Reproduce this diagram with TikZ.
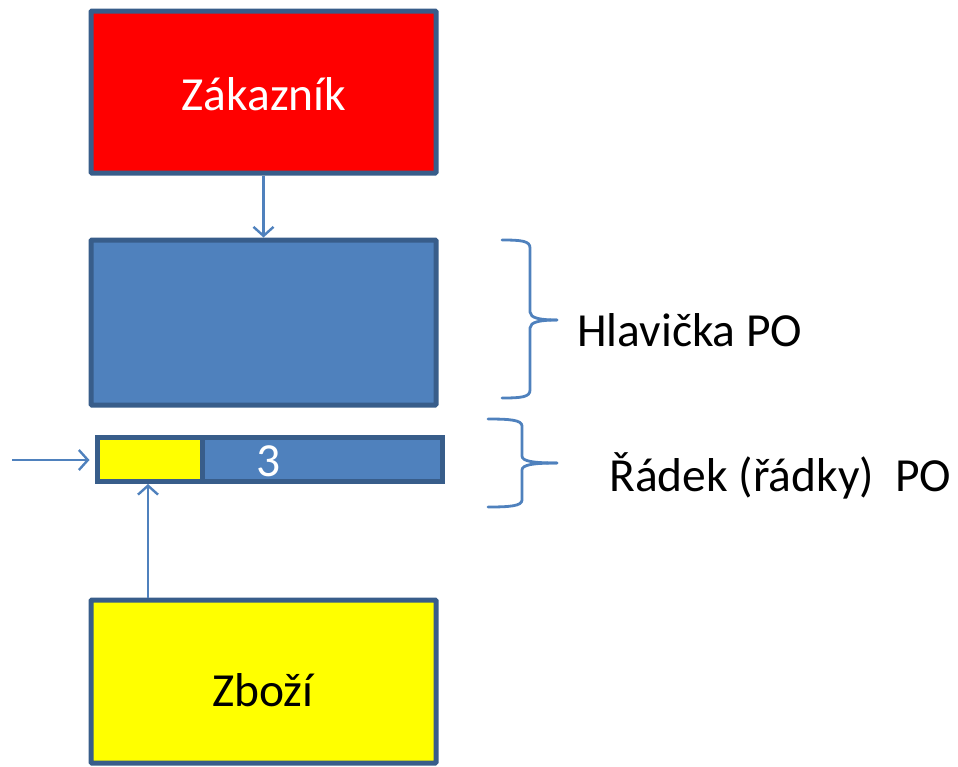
\documentclass[tikz,border=0pt]{standalone}
\usepackage{fontspec}
\setmainfont{Carlito}
\usetikzlibrary{arrows.meta}
\definecolor{boxborder}{HTML}{385D8A}
\definecolor{boxblue}{HTML}{4F81BD}
\definecolor{linkblue}{HTML}{4F81BD}
\definecolor{boxred}{HTML}{FF0000}
\definecolor{boxyellow}{HTML}{FFFF00}
\begin{document}
\begin{tikzpicture}[x=1pt,y=-1pt,
  box/.style={draw=boxborder, line width=5pt, rounded corners=1pt, minimum width=345pt, inner sep=0pt},
  cell/.style={draw=boxborder, line width=5pt, minimum height=44pt, inner sep=0pt},
  link/.style={draw=linkblue, line width=2.4pt, -{Straight Barb[length=9pt,width=20pt,line width=2.4pt]}},
  bracestyle/.style={draw=linkblue, line width=2.8pt, line cap=round, line join=round},
  lbl/.style={font=\fontsize{47.5}{56}\selectfont, inner sep=0pt}
]
\useasboundingbox (0,0) rectangle (958,766);
% boxes
\node[box, fill=boxred, minimum height=162pt] (zak) at (263.5,92) {};
\node[lbl, text=white, anchor=base] (zaktxt) at (264,110) {Zákazník};
\node[box, fill=boxblue, minimum height=165pt] (hl) at (263.5,322.5) {};
\node[cell, fill=boxblue, minimum width=240pt] (bc) at (322,459) {};
\node[cell, fill=boxyellow, minimum width=105pt] (yc) at (149.5,459) {};
\node[lbl, text=white, anchor=base] (three) at (269,476) {3};
\node[box, fill=boxyellow, minimum height=163pt] (zb) at (263.5,681.5) {};
\node[lbl, text=black, anchor=base] (zbtxt) at (263,706) {Zboží};
% connectors
\draw[link] (zak.south) -- (hl.north);
\coordinate (lin) at (12,460);
\draw[link, shorten >=5pt] (lin) -- (yc.west |- lin);
\draw[link] (zb.north -| 148,0) -- (148,484);
% braces
\draw[bracestyle] (502,240) .. controls (522,240) and (530,241) .. (530,248)
  -- (530,312) .. controls (530,318) and (540,320) .. (557,320);
\draw[bracestyle] (502,398) .. controls (522,398) and (530,397) .. (530,390)
  -- (530,328) .. controls (530,322) and (540,320) .. (557,320);
\draw[bracestyle] (488,419) .. controls (510,419) and (522,420) .. (522,426)
  -- (522,456) .. controls (522,461) and (532,463) .. (557,463);
\draw[bracestyle] (488,507) .. controls (510,507) and (522,506) .. (522,500)
  -- (522,470) .. controls (522,465) and (532,463) .. (557,463);
% labels
\node[lbl, anchor=base west] (hltxt) at (577,346) {Hlavička PO};
\node[lbl, anchor=base west] (rdtxt) at (609,491) {Řádek (řádky)\ \ PO};
\end{tikzpicture}
\end{document}
